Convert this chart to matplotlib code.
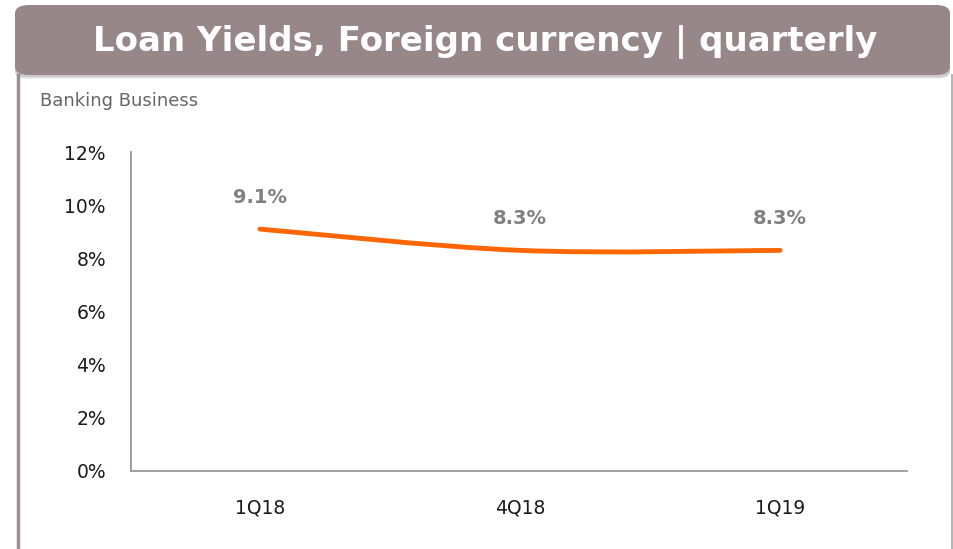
import matplotlib.pyplot as plt
from matplotlib.patches import FancyBboxPatch, PathPatch
from matplotlib.path import Path
from matplotlib.lines import Line2D

plt.rcParams['font.family'] = ['DejaVu Sans']

quarters = ["1Q18", "4Q18", "1Q19"]
yields = [9.1, 8.3, 8.3]
value_labels = ["9.1%", "8.3%", "8.3%"]
yticks = [0, 2, 4, 6, 8, 10, 12]

fig = plt.figure(figsize=(9.54, 5.49), dpi=100)
W, H = 954, 549

# header banner with a soft shadow
for i, a in enumerate([0.05, 0.07, 0.09]):
    d = 3 - i
    fig.patches.append(FancyBboxPatch((15 / W, (549 - 76 - d) / H), 935 / W, 68 / H,
                                      boxstyle="round,pad=0,rounding_size=0.012",
                                      transform=fig.transFigure, fc="black", ec="none",
                                      alpha=a, zorder=1))
fig.patches.append(FancyBboxPatch((15 / W, (549 - 75) / H), 935 / W, 70 / H,
                                  boxstyle="round,pad=0,rounding_size=0.015",
                                  transform=fig.transFigure, fc="#978789", ec="none", zorder=2))
fig.text(485 / W, 1 - 42 / H, "Loan Yields, Foreign currency | quarterly", color="white",
         fontsize=24.5, fontweight="bold", ha="center", va="center", zorder=3)

# side borders
fig.lines.append(Line2D([17.5 / W, 17.5 / W], [0, 1 - 75 / H], transform=fig.transFigure,
                        color="#9b8f91", lw=2.5))
fig.lines.append(Line2D([952 / W, 952 / W], [0, 1 - 75 / H], transform=fig.transFigure,
                        color="#a8a8a8", lw=1.2))

fig.text(40 / W, 1 - 101 / H, "Banking Business", color="#666666", fontsize=13,
         ha="left", va="center")

ax = fig.add_axes([131 / W, 1 - 471 / H, (907 - 131) / W, (471 - 152) / H])
x = list(range(len(quarters)))

# smooth line (Catmull-Rom drawn as cubic Bezier segments)
verts = [(x[0], yields[0])]
codes = [Path.MOVETO]
pts = list(zip(x, yields))
for i in range(len(pts) - 1):
    p0 = pts[i - 1] if i > 0 else pts[i]
    p1, p2 = pts[i], pts[i + 1]
    p3 = pts[i + 2] if i + 2 < len(pts) else pts[i + 1]
    c1 = (p1[0] + (p2[0] - p0[0]) / 6, p1[1] + (p2[1] - p0[1]) / 6)
    c2 = (p2[0] - (p3[0] - p1[0]) / 6, p2[1] - (p3[1] - p1[1]) / 6)
    verts += [c1, c2, p2]
    codes += [Path.CURVE4] * 3
ax.add_patch(PathPatch(Path(verts, codes), fc="none", ec="#ff6600", lw=3.5,
                       capstyle="round", zorder=3))

for xi, yi, lab in zip(x, yields, value_labels):
    ax.annotate(lab, (xi, yi), xytext=(0, 16), textcoords="offset points",
                ha="center", va="bottom", color="#808080", fontsize=14, fontweight="bold")

ax.set_xlim(-0.496, 2.488)
ax.set_ylim(0, 12)
ax.set_xticks(x)
ax.set_xticklabels(quarters)
ax.set_yticks(yticks)
ax.set_yticklabels([f"{v}%" for v in yticks])
ax.tick_params(length=0, labelsize=13.5, colors="#1a1a1a")
ax.tick_params(axis="y", pad=18)
ax.tick_params(axis="x", pad=20)
for s in ["top", "right"]:
    ax.spines[s].set_visible(False)
for s in ["left", "bottom"]:
    ax.spines[s].set_color("#999999")
    ax.spines[s].set_linewidth(1.3)

fig.savefig("out.png", dpi=100)
